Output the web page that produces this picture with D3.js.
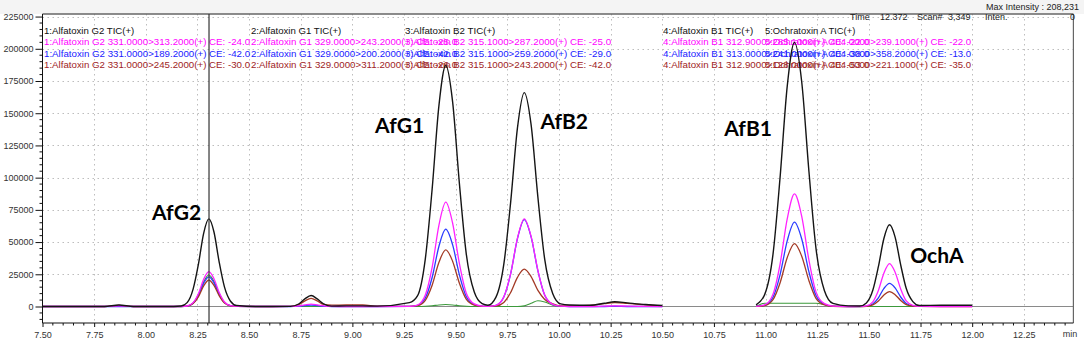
<!DOCTYPE html>
<html><head><meta charset="utf-8">
<script src="https://cdn.jsdelivr.net/npm/d3@7"></script>
<style>
html,body{margin:0;padding:0;background:#fff;}
svg{display:block;}
</style>
</head><body>
<div id="chart"></div>
<script>
// ---------- DATA ----------
const times = [7.50, 7.80, 7.87, 7.94, 8.10,
 8.171, 8.200, 8.229, 8.255, 8.280, 8.305, 8.330, 8.355, 8.381, 8.410, 8.439,
 8.55, 8.70, 8.74, 8.77, 8.80, 8.83, 8.86, 8.90, 8.97, 9.05, 9.12,
 9.276, 9.315, 9.353, 9.386, 9.419, 9.452, 9.485, 9.518, 9.551, 9.590, 9.628,
 9.656, 9.695, 9.733, 9.766, 9.799, 9.832, 9.865, 9.898, 9.931, 9.970, 10.008,
 10.05, 10.15, 10.22, 10.27, 10.33, 10.42, 10.50,
 10.75,
 10.954, 10.995, 11.036, 11.070, 11.105, 11.140, 11.175, 11.210, 11.244, 11.285, 11.326,
 11.40,
 11.456, 11.488, 11.519, 11.546, 11.573, 11.600, 11.627, 11.654, 11.681, 11.713, 11.744,
 11.85, 12.00];

const ticTotal = [0, 0, 1200, 0, 0,
 400, 3000, 13500, 33100, 56800, 68000, 57800, 34700, 15000, 4100, 800,
 0, 140, 1950, 5870, 8500, 5870, 2130, 260, 500, 500, 300,
 3000, 8200, 37000, 91100, 156100, 187000, 159000, 95400, 41100, 11200, 2200,
 1000, 7300, 32870, 80840, 138610, 166000, 141100, 84660, 36520, 9960, 1990,
 1200, 1000, 2500, 3700, 2800, 1500, 800,
 null,
 1230, 9020, 40590, 99840, 171180, 205000, 174250, 104550, 45100, 12300, 2460,
 500,
 380, 2790, 12550, 30880, 52940, 63400, 53890, 32330, 13950, 3800, 760,
 1000, 1000];

const mrmMagenta = [0, 0, 600, 0, 0,
 30, 380, 2970, 10130, 21060, 27000, 21600, 11070, 3510, 680, 110,
 0, 30, 440, 1310, 1900, 1310, 480, 60, 0, 0, 0,
 80, 1130, 8910, 30380, 63180, 81000, 64800, 33210, 10530, 2030, 320,
 70, 950, 7480, 25500, 53040, 68000, 54400, 27880, 8840, 1700, 270,
 0, 0, 300, 500, 300, 100, 0,
 null,
 90, 1220, 9610, 32780, 68170, 87400, 69920, 35830, 11360, 2190, 350,
 0,
 30, 470, 3660, 12490, 25970, 33300, 26640, 13650, 4330, 830, 130,
 0, 0];

const mrmBlue = [0, 0, 0, 0, 0,
 20, 320, 2530, 8630, 17940, 23000, 18400, 9430, 2990, 580, 90,
 0, 0, 300, 700, 1000, 700, 300, 0, 0, 0, 0,
 60, 840, 6600, 22500, 46800, 60000, 48000, 24600, 7800, 1500, 240,
 70, 950, 7430, 25310, 52650, 67500, 54000, 27680, 8780, 1690, 270,
 0, 0, 0, 200, 0, 0, 0,
 null,
 70, 920, 7210, 24560, 51090, 65500, 52400, 26860, 8520, 1640, 260,
 0,
 20, 250, 1980, 6750, 14040, 18000, 14400, 7380, 2340, 450, 70,
 500, 500];

const mrmBrown = [0, 0, 900, 0, 0,
 20, 290, 2260, 7690, 15990, 20500, 16400, 8410, 2670, 510, 80,
 0, 110, 1450, 4350, 6300, 4350, 1580, 1000, 1200, 1200, 300,
 40, 620, 4840, 16500, 34320, 44000, 35200, 18040, 5720, 1100, 180,
 30, 410, 3190, 10880, 22620, 29000, 23200, 12500, 5500, 2000, 400,
 500, 800, 2200, 3000, 2400, 1200, 500,
 null,
 50, 680, 5370, 18300, 38060, 48800, 39040, 20010, 6340, 1220, 200,
 0,
 10, 160, 1270, 4310, 8970, 11500, 9200, 4720, 1500, 290, 50,
 0, 0];

const mrmGreen = [0, 0, 0, 0, 0,
 20, 340, 2700, 9190, 19110, 24500, 19600, 10050, 3190, 610, 100,
 0, 0, 0, 0, 0, 0, 0, 0, 0, 0, 0,
 0, 0, 200, 600, 1200, 1500, 1200, 600, 200, 0, 0,
 0, 0, 0, 0, 0, 500, 2500, 4500, 3500, 1000, 0,
 0, 0, 0, 0, 0, 0, 0,
 null,
 0, 2500, 2500, 2500, 2500, 2500, 2500, 2500, 2500, 1500, 0,
 0,
 0, 0, 0, 0, 0, 0, 0, 0, 0, 0, 0,
 0, 0];

const yTickValues = [0, 25000, 50000, 75000, 100000, 125000, 150000, 175000, 200000, 225000];
const xTickValues = [7.50, 7.75, 8.00, 8.25, 8.50, 8.75, 9.00, 9.25, 9.50, 9.75, 10.00, 10.25, 10.50, 10.75, 11.00, 11.25, 11.50, 11.75, 12.00, 12.25];
const cursorTime = 8.306;

const peakLabels = ["AfG2", "AfG1", "AfB2", "AfB1", "OchA"];
const peakLabelTimes = [8.03, 9.11, 9.91, 10.80, 11.70];
const peakLabelValues = [67000, 135000, 138000, 132000, 33500];

const legendTic = ["1:Alfatoxin G2 TIC(+)", "2:Alfatoxin G1 TIC(+)", "3:Alfatoxin B2 TIC(+)", "4:Alfatoxin B1 TIC(+)", "5:Ochratoxin A TIC(+)"];
const legendMagenta = ["1:Alfatoxin G2 331.0000>313.2000(+) CE: -24.0", "2:Alfatoxin G1 329.0000>243.2000(+) CE: -25.0", "3:Alfatoxin B2 315.1000>287.2000(+) CE: -25.0", "4:Alfatoxin B1 312.9000>285.1000(+) CE: -22.0", "5:Ochratoxin A 404.0000>239.1000(+) CE: -22.0"];
const legendBlue = ["1:Alfatoxin G2 331.0000>189.2000(+) CE: -42.0", "2:Alfatoxin G1 329.0000>200.2000(+) CE: -42.0", "3:Alfatoxin B2 315.1000>259.2000(+) CE: -29.0", "4:Alfatoxin B1 313.0000>241.0000(+) CE: -38.0", "5:Ochratoxin A 404.0000>358.2000(+) CE: -13.0"];
const legendBrown = ["1:Alfatoxin G2 331.0000>245.2000(+) CE: -30.0", "2:Alfatoxin G1 329.0000>311.2000(+) CE: -26.0", "3:Alfatoxin B2 315.1000>243.2000(+) CE: -42.0", "4:Alfatoxin B1 312.9000>128.0000(+) CE: -53.0", "5:Ochratoxin A 404.0000>221.1000(+) CE: -35.0"];

const headerInfo = ["Time", "12.372", "Scan#", "3,349", "Inten.", "0"];
const maxIntensityText = "Max Intensity : 208,231";

// ---------- LAYOUT ----------
const W = 1084, H = 342;
const plotLeft = 42.5, plotRight = 1073.4, plotTop = 14, plotBottom = 323;
const FONT = "Liberation Sans, Arial, sans-serif";

const svg = d3.select("#chart").append("svg").attr("width", W).attr("height", H);

const x = d3.scaleLinear().domain([7.5, 12.49]).range([plotLeft, plotRight]);
const y = d3.scaleLinear().domain([-12800, 227000]).range([plotBottom, plotTop]);

// top strip
svg.append("rect").attr("x", 0).attr("y", 0).attr("width", W).attr("height", plotTop).attr("fill", "#f4f4f4");

// grid
const grid = svg.append("g");
grid.selectAll("line.h").data(yTickValues.filter(v => v > 0)).join("line")
  .attr("x1", plotLeft).attr("x2", plotRight)
  .attr("y1", d => Math.round(y(d)) + 0.5).attr("y2", d => Math.round(y(d)) + 0.5)
  .attr("stroke", "#bdbdbd").attr("stroke-width", 1).attr("stroke-dasharray", "1.5,3.5");
grid.selectAll("line.v").data(xTickValues.filter(v => v > 7.5)).join("line")
  .attr("x1", d => Math.round(x(d)) + 0.5).attr("x2", d => Math.round(x(d)) + 0.5)
  .attr("y1", plotTop).attr("y2", plotBottom)
  .attr("stroke", "#bdbdbd").attr("stroke-width", 1).attr("stroke-dasharray", "1.5,3.5");

// zero line
svg.append("line").attr("x1", plotLeft).attr("x2", plotRight)
  .attr("y1", y(0)).attr("y2", y(0)).attr("stroke", "#8a8a8a").attr("stroke-width", 1.2);

// frame top and right
svg.append("line").attr("x1", plotLeft).attr("x2", plotRight).attr("y1", plotTop).attr("y2", plotTop)
  .attr("stroke", "#666").attr("stroke-width", 1.5);
svg.append("line").attr("x1", plotRight).attr("x2", plotRight).attr("y1", plotTop).attr("y2", plotBottom)
  .attr("stroke", "#666").attr("stroke-width", 1.2);

// legend texts (overlapping as in the instrument print-out)
const legendX = [44, 251, 405, 663, 765];
const legendRows = [
  {texts: legendTic, color: "#111", y: 34, cw: 4.3},
  {texts: legendMagenta, color: "#ff00ff", y: 45, cw: 4.58},
  {texts: legendBlue, color: "#1a1aff", y: 56.5, cw: 4.58},
  {texts: legendBrown, color: "#a0231e", y: 67.5, cw: 4.58}
];
const lg = svg.append("g").attr("font-family", FONT).attr("font-size", "9px");
legendRows.forEach(row => {
  lg.selectAll(null).data(row.texts).join("text")
    .attr("x", (d, i) => legendX[i]).attr("y", row.y)
    .attr("textLength", d => d.length * row.cw).attr("lengthAdjust", "spacingAndGlyphs")
    .attr("fill", row.color).text(d => d);
});

// header info
const hg = svg.append("g").attr("font-family", FONT).attr("font-size", "9px").attr("fill", "#222");
const headerX = [850, 880, 917, 948, 985, 1075];
hg.selectAll(null).data(headerInfo).join("text")
  .attr("x", (d, i) => headerX[i]).attr("y", 20)
  .attr("text-anchor", (d, i) => i === 5 ? "end" : "start").text(d => d);
hg.append("text").attr("x", 1079).attr("y", 10).attr("text-anchor", "end").text(maxIntensityText);

// traces
svg.append("clipPath").attr("id", "plotclip").append("rect")
  .attr("x", plotLeft).attr("y", plotTop).attr("width", plotRight - plotLeft).attr("height", plotBottom - plotTop);

const series = [
  {values: mrmGreen, color: "#3c9a3c", w: 1.1},
  {values: mrmBlue, color: "#2b3cff", w: 1.3},
  {values: mrmBrown, color: "#a33a26", w: 1.3},
  {values: mrmMagenta, color: "#ff22ff", w: 1.3},
  {values: ticTotal, color: "#151515", w: 1.4}
];
const line = d3.line()
  .defined(d => d[1] !== null)
  .x(d => x(d[0])).y(d => y(d[1]))
  .curve(d3.curveMonotoneX);

svg.append("g").attr("clip-path", "url(#plotclip)")
  .selectAll("path").data(series).join("path")
  .attr("d", s => line(times.map((t, i) => [t, s.values[i]])))
  .attr("fill", "none").attr("stroke", s => s.color).attr("stroke-width", s => s.w)
  .attr("stroke-linejoin", "round");

// cursor line
svg.append("line").attr("x1", x(cursorTime)).attr("x2", x(cursorTime))
  .attr("y1", plotTop).attr("y2", plotBottom).attr("stroke", "#333").attr("stroke-width", 1.2);

// axes
const yAxis = d3.axisLeft(y).tickValues(yTickValues).tickSize(7).tickPadding(2).tickFormat(d3.format("d"));
const gy = svg.append("g").attr("transform", `translate(${plotLeft},0)`).call(yAxis);
gy.select(".domain").attr("d", `M0,${plotTop}V${plotBottom}`).attr("stroke", "#111");
gy.selectAll("text").attr("font-family", FONT).attr("font-size", "9px").attr("fill", "#333");
gy.selectAll(".tick line").attr("stroke", "#111");
const yMinor = d3.range(-10000, 226000, 5000).filter(v => v % 25000 !== 0);
gy.selectAll("line.minor").data(yMinor).join("line").attr("class", "minor")
  .attr("x1", -3).attr("x2", 0).attr("y1", d => y(d)).attr("y2", d => y(d)).attr("stroke", "#111");

const xAxis = d3.axisBottom(x).tickValues(xTickValues).tickSize(4).tickPadding(5).tickFormat(d3.format(".2f"));
const gx = svg.append("g").attr("transform", `translate(0,${plotBottom})`).call(xAxis);
gx.select(".domain").attr("d", `M${plotLeft},0H${plotRight}`).attr("stroke", "#111");
gx.selectAll("text").attr("font-family", FONT).attr("font-size", "9px").attr("fill", "#333");
gx.selectAll(".tick line").attr("stroke", "#111");
const xMinor = d3.range(7.55, 12.46, 0.05).filter(v => Math.abs(v * 4 - Math.round(v * 4)) > 0.01);
gx.selectAll("line.minor").data(xMinor).join("line").attr("class", "minor")
  .attr("x1", d => x(d)).attr("x2", d => x(d)).attr("y1", 0).attr("y2", 2.5).attr("stroke", "#111");
gx.append("text").attr("x", 1070).attr("y", 14).attr("text-anchor", "middle")
  .attr("font-family", FONT).attr("font-size", "9px").attr("fill", "#333").text("min");

// peak labels
svg.append("g").selectAll("text").data(peakLabels).join("text")
  .attr("x", (d, i) => x(peakLabelTimes[i])).attr("y", (d, i) => y(peakLabelValues[i]))
  .attr("font-family", "Lato, 'Open Sans', sans-serif").attr("font-weight", "bold")
  .attr("font-size", "21px").attr("fill", "#000").text(d => d);
</script>
</body></html>
